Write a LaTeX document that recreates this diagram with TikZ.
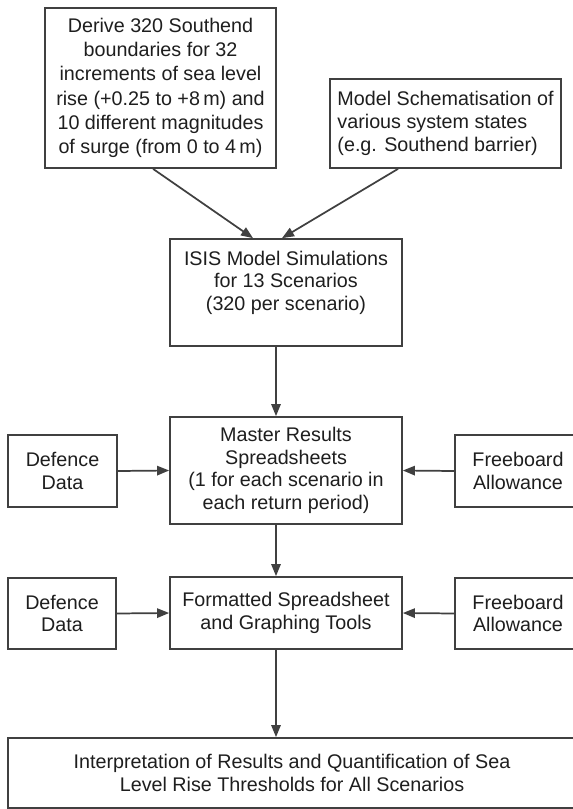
\documentclass[tikz,border=0pt]{standalone}
\usepackage{fontspec}
\setmainfont{Liberation Sans}
\usetikzlibrary{arrows.meta}
\definecolor{linegray}{HTML}{404040}
\definecolor{textgray}{HTML}{1E1E1E}
\tikzset{
	flowbox/.style={draw=linegray, line width=1.3pt, fill=white, align=center, inner sep=3pt, text=textgray, font={\fontsize{14.8}{17}\selectfont}},
	flowarrow/.style={draw=linegray, line width=1.3pt, -{Triangle[length=9pt,width=7pt]}}
}
\begin{document}
\begin{tikzpicture}[x=0.75pt, y=-0.75pt]
		\useasboundingbox [fill=white] ( 0, 0 ) rectangle ( 573, 809 );
		\node [flowbox, minimum width=173.25pt, minimum height=120pt, font={\fontsize{14.8}{18.2}\selectfont}] (derive) at ( 160.5, 88 ) {Derive 320 Southend\\boundaries for 32\\increments of sea level\\rise (+0.25 to +8\,m) and\\10 different magnitudes\\of surge (from 0 to 4\,m)};
		\node [flowbox, align=left, minimum width=173.25pt, minimum height=66.75pt] (schem) at ( 445.5, 123.5 ) {Model Schematisation of\\various system states\\(e.g. Southend barrier)};
		\node [flowbox, inner xsep=0pt, inner ysep=9pt] (isis) at ( 286, 292.5 ) {\parbox[c][62.25pt][t]{174pt}{\centering ISIS Model Simulations\\for 13 Scenarios\\(320 per scenario)}};
		\node [flowbox, minimum width=174pt, minimum height=80.25pt] (master) at ( 286, 470.5 ) {Master Results\\Spreadsheets\\(1 for each scenario in\\each return period)};
		\node [flowbox, minimum width=81.75pt, minimum height=54pt] (defenceA) at ( 62.5, 471 ) {Defence\\Data};
		\node [flowbox, minimum width=94.5pt, minimum height=54pt] (freeboardA) at ( 518, 471 ) {Freeboard\\Allowance};
		\node [flowbox, minimum width=174pt, minimum height=54pt] (formatted) at ( 286, 613 ) {Formatted Spreadsheet\\and Graphing Tools};
		\node [flowbox, minimum width=81pt, minimum height=53.25pt] (defenceB) at ( 62, 613.5 ) {Defence\\Data};
		\node [flowbox, minimum width=94.5pt, minimum height=53.25pt] (freeboardB) at ( 518, 613.5 ) {Freeboard\\Allowance};
		\node [flowbox, minimum width=426pt, minimum height=52.5pt] (interp) at ( 292, 773 ) {Interpretation of Results and Quantification of Sea\\Level Rise Thresholds for All Scenarios};
		\draw [flowarrow] ([xshift=-5.6pt]derive.south) -- ([xshift=-24.75pt]isis.north);
		\draw [flowarrow] ([xshift=-35.6pt]schem.south) -- ([xshift=-3pt]isis.north);
		\draw [flowarrow] ([xshift=-7.5pt]isis.south) -- ([xshift=-7.5pt]master.north);
		\draw [flowarrow] (defenceA.east) -- (master.west);
		\draw [flowarrow] (freeboardA.west) -- (master.east);
		\draw [flowarrow] ([xshift=-7.5pt]master.south) -- ([xshift=-7.5pt]formatted.north);
		\draw [flowarrow] (defenceB.east) -- (formatted.west);
		\draw [flowarrow] (freeboardB.west) -- (formatted.east);
		\draw [flowarrow] ([xshift=-7.5pt]formatted.south) -- ([xshift=-7.5pt]formatted.south |- interp.north);
	\end{tikzpicture}
\end{document}
